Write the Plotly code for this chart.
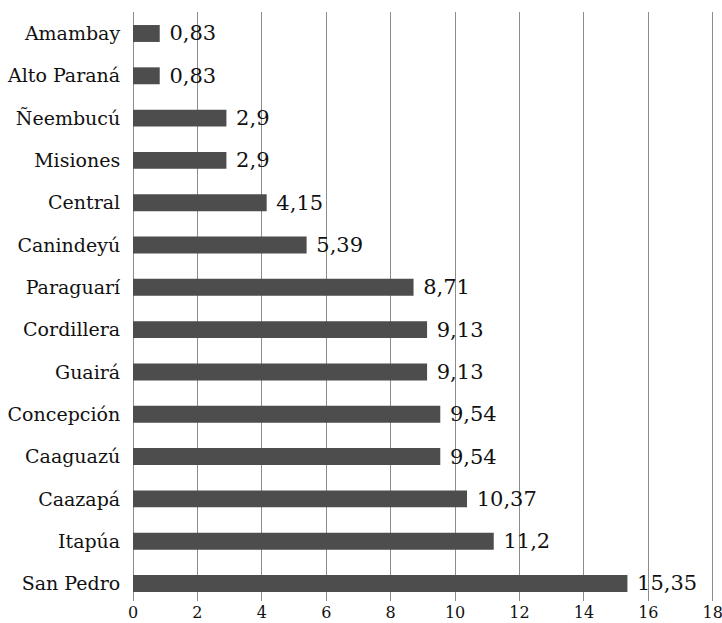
import plotly.graph_objects as go

# Departamentos (de arriba hacia abajo) y valores
departamentos = ['Amambay', 'Alto Paraná', 'Ñeembucú', 'Misiones', 'Central',
                 'Canindeyú', 'Paraguarí', 'Cordillera', 'Guairá', 'Concepción',
                 'Caaguazú', 'Caazapá', 'Itapúa', 'San Pedro']
valores = [0.83, 0.83, 2.9, 2.9, 4.15, 5.39, 8.71, 9.13, 9.13, 9.54, 9.54, 10.37, 11.2, 15.35]
x_ticks = [0, 2, 4, 6, 8, 10, 12, 14, 16, 18]

etiquetas = [' ' + f"{v:g}".replace('.', ',') for v in valores]

FONT = 'DejaVu Serif'
GRIS = '#8c8c8c'

fig = go.Figure(go.Bar(
    x=valores,
    y=departamentos,
    orientation='h',
    marker=dict(color='#4d4d4d', line=dict(width=0)),
    width=0.4,
    text=etiquetas,
    textposition='outside',
    constraintext='none',
    textfont=dict(family=FONT, size=21, color='#111111'),
    cliponaxis=False,
))

fig.update_layout(
    width=722, height=623,
    margin=dict(l=133, r=6, t=12, b=22),
    plot_bgcolor='white', paper_bgcolor='white',
    showlegend=False,
    font=dict(family=FONT, color='#111111'),
)
fig.update_xaxes(
    range=[0, 18.1], tickvals=x_ticks, showgrid=True, gridcolor=GRIS, gridwidth=1.3,
    zeroline=True, zerolinecolor=GRIS, zerolinewidth=1.3, showline=False, ticks='',
    tickfont=dict(family=FONT, size=16), automargin=False, ticklabeloverflow='allow',
)
fig.update_yaxes(
    range=[13.414, -0.508], showgrid=False, zeroline=False,
    showline=False, ticks='outside', ticklen=8, tickcolor='white',
    tickfont=dict(family=FONT, size=19), automargin=False,
)

# quitar el margen por defecto del <body> para que la figura quepa sin barras de desplazamiento
fig.write_html("out.html", config={'displayModeBar': False},
               post_script="document.body.style.margin='0';document.body.style.overflow='hidden';")
